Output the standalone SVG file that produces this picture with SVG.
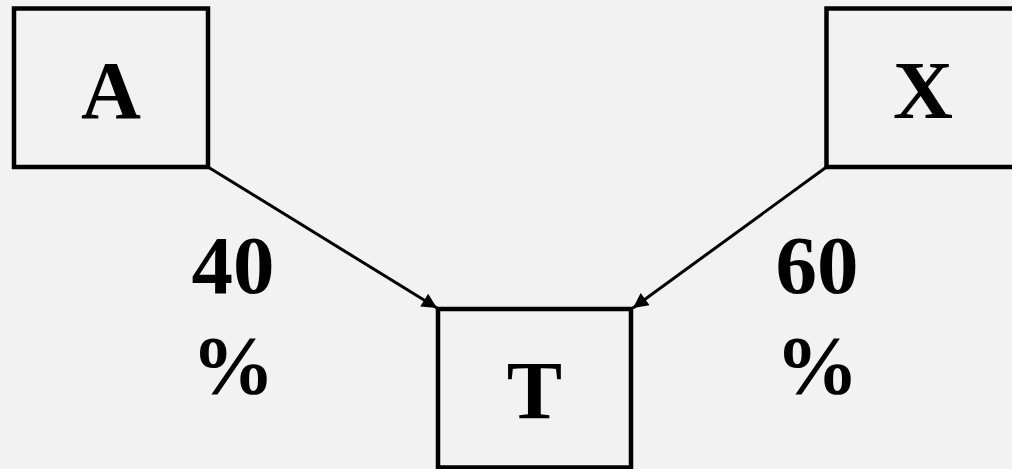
<svg xmlns="http://www.w3.org/2000/svg" width="1012" height="469" viewBox="0 0 1012 469">
<defs>
<style>
.box{fill:#f2f2f2;stroke:#000;stroke-width:4.5}
.lbl{font-weight:bold;font-size:83px;fill:#000;text-anchor:middle}
.edge{stroke:#000;stroke-width:3;fill:none;marker-end:url(#arr)}
</style>
<marker id="arr" viewBox="0 0 10 10" refX="10" refY="5" markerWidth="6.5" markerHeight="5" markerUnits="strokeWidth" orient="auto">
<path d="M0,0 L10,5 L0,10 z" fill="#000"/>
</marker>
</defs>
<rect width="1012" height="469" fill="#f2f2f2"/>
<g id="connectors">
<line class="edge" x1="208" y1="167" x2="437" y2="308"/>
<line class="edge" x1="826.5" y1="167" x2="633" y2="308"/>
</g>
<g font-family="Liberation Serif, Times New Roman, serif">
<g id="node-A">
<rect class="box" x="14" y="8.5" width="194" height="158.5"/>
<text class="lbl" x="111" y="118">A</text>
</g>
<g id="node-X">
<rect class="box" x="826.5" y="8.5" width="194" height="158.5"/>
<text class="lbl" x="923" y="118">X</text>
</g>
<g id="node-T">
<rect class="box" x="438" y="309" width="193" height="158.5"/>
<text class="lbl" x="534.5" y="418">T</text>
</g>
<g id="labels">
<text class="lbl" x="233" y="293">40</text>
<text class="lbl" x="233" y="393">%</text>
<text class="lbl" x="817" y="293">60</text>
<text class="lbl" x="817" y="393">%</text>
</g>
</g>
</svg>
